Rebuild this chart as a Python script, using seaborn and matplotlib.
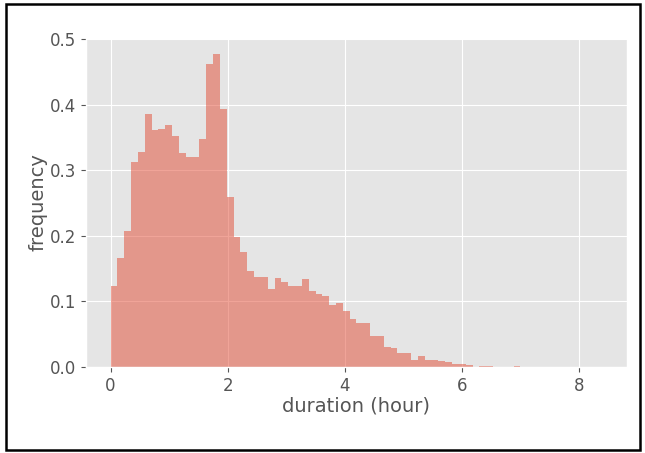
import numpy as np
import pandas as pd
import matplotlib
matplotlib.use("Agg")
import matplotlib.pyplot as plt
import seaborn as sns
from matplotlib.patches import Rectangle

# histogram: 72 bins of 7 minutes from 0 to 8.4 hours
bin_width = 7 / 60
n_bins = 72
heights = [
    0.124, 0.166, 0.207, 0.313, 0.328, 0.386, 0.362, 0.363, 0.370, 0.352,
    0.326, 0.321, 0.320, 0.348, 0.462, 0.478, 0.394, 0.259, 0.199, 0.176,
    0.147, 0.138, 0.137, 0.119, 0.136, 0.130, 0.123, 0.124, 0.134, 0.116,
    0.112, 0.109, 0.095, 0.097, 0.085, 0.073, 0.067, 0.067, 0.047, 0.047,
    0.031, 0.029, 0.022, 0.022, 0.010, 0.017, 0.010, 0.010, 0.0085, 0.007,
    0.005, 0.004, 0.0026, 0.0, 0.0015, 0.0015, 0.0, 0.0, 0.0, 0.0015,
]
heights = heights + [0.0] * (n_bins - len(heights))

edges = [i * bin_width for i in range(n_bins + 1)]
centers = [(edges[i] + edges[i + 1]) / 2 for i in range(n_bins)]
df = pd.DataFrame({"duration": centers, "freq": heights})

plt.style.use("ggplot")
fig = plt.figure(figsize=(6.45, 4.53), dpi=100)
ax = fig.add_axes([0.1333, 0.1898, 0.8388, 0.7263])

sns.histplot(data=df, x="duration", weights="freq", bins=edges, color="#E24A33",
             alpha=0.5, linewidth=0, ax=ax)

ax.set_xlim(-0.42, 8.82)
ax.set_ylim(0, 0.502)
ax.set_xticks([0, 2, 4, 6, 8])
ax.set_yticks([0.0, 0.1, 0.2, 0.3, 0.4, 0.5])
ax.tick_params(labelsize=12)
ax.set_xlabel("duration (hour)", fontsize=14, labelpad=1)
ax.set_ylabel("frequency", fontsize=14, labelpad=2)

# black frame round the figure
fig.patches.append(Rectangle((0.009, 0.006), 0.983, 0.985, transform=fig.transFigure,
                             fill=False, edgecolor="black", linewidth=1.8))

fig.savefig("out.png", dpi=100)
